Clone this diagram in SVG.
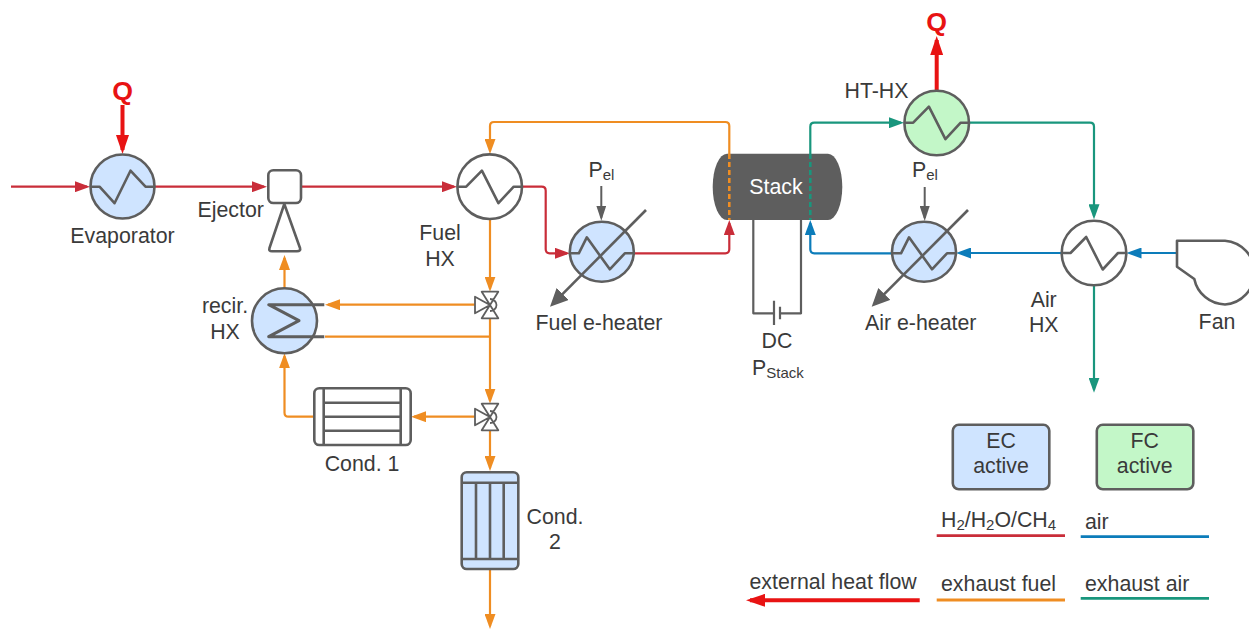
<svg xmlns="http://www.w3.org/2000/svg" width="1249" height="629" viewBox="0 0 1249 629">
<style>
text{font-family:"Liberation Sans",Arial,sans-serif;font-size:21.33px;fill:#3a3a3a}
.m{text-anchor:middle}
.s{font-size:15px}
.q{font-size:26.67px;font-weight:bold;fill:#e81313}
.g{fill:none;stroke:#5e5e5e;stroke-width:2.6;stroke-linejoin:round}
.v{fill:#fff;stroke:#5e5e5e;stroke-width:1.8;stroke-linejoin:round}
.b{fill:#cfe4ff}.gr{fill:#c3f7c8}.w{fill:#fff}
.c{fill:none;stroke-width:2.2;stroke-linejoin:round}
.d{stroke-dasharray:5 3;stroke-width:2.6}
.l{fill:none;stroke-width:2.8}
.red{stroke:#c92d39;marker-end:url(#ar)}
.or{stroke:#ef8d22;marker-end:url(#ao)}
.gn{stroke:#19967d;marker-end:url(#ag)}
.bl{stroke:#0c7cba;marker-end:url(#ab)}
.n{marker-end:none}
.hot{fill:none;stroke:#e81313;stroke-width:4;marker-end:url(#aq)}
.pe{fill:none;stroke:#5e5e5e;stroke-width:2;marker-end:url(#ap)}
.dg{fill:none;stroke:#5e5e5e;stroke-width:2.6;marker-end:url(#ad)}
</style>
<defs>
<marker id="ar" markerUnits="userSpaceOnUse" markerWidth="15" markerHeight="11" refX="12" refY="5.500" orient="auto"><path d="M0 0L15 5.500L0 11Z" fill="#c92d39"/></marker>
<marker id="ao" markerUnits="userSpaceOnUse" markerWidth="15" markerHeight="11" refX="12" refY="5.500" orient="auto"><path d="M0 0L15 5.500L0 11Z" fill="#ef8d22"/></marker>
<marker id="ag" markerUnits="userSpaceOnUse" markerWidth="15" markerHeight="11" refX="12" refY="5.500" orient="auto"><path d="M0 0L15 5.500L0 11Z" fill="#19967d"/></marker>
<marker id="ab" markerUnits="userSpaceOnUse" markerWidth="15" markerHeight="11" refX="12" refY="5.500" orient="auto"><path d="M0 0L15 5.500L0 11Z" fill="#0c7cba"/></marker>
<marker id="ap" markerUnits="userSpaceOnUse" markerWidth="15" markerHeight="10" refX="12" refY="5" orient="auto"><path d="M0 0L15 5L0 10Z" fill="#5e5e5e"/></marker>
<marker id="ad" markerUnits="userSpaceOnUse" markerWidth="18" markerHeight="17" refX="14" refY="8.500" orient="auto"><path d="M0 0L18 8.500L0 17Z" fill="#5e5e5e"/></marker>
<marker id="aq" markerUnits="userSpaceOnUse" markerWidth="19" markerHeight="13" refX="15" refY="6.500" orient="auto"><path d="M0 0L19 6.500L0 13Z" fill="#e81313"/></marker>
<path id="zu" d="M-32 0H-23.500L-7.800 -16L8.700 16.500L24 0H32"/>
<path id="zd" d="M-32 0H-23L-8 16.500L8 -16L23 0H32"/>
<path id="ze" d="M-32 0H-23L-15 -16L8 16L23 0H32"/>
<path id="valve" d="M-8.300 -13.300H8.300L-8.300 13.300H8.300ZM-15 -8.300L0 0L-15 8.300ZM0 -6A6.500 6 0 0 1 0 6"/>
</defs>

<g id="stack">
<path d="M727 153.700H828A14.300 33.150 0 0 1 828 220H727A14.300 33.150 0 0 1 727 153.700Z" fill="#5e5e5e"/>
<text class="m" x="776" y="193.500" style="fill:#fff">Stack</text>
</g>

<g id="connectors">
<path class="c red" d="M11 186.700H87"/>
<path class="c red" d="M155 186.700H264"/>
<path class="c red" d="M301 186.700H454"/>
<path class="c red" d="M522 186.700H541.700Q545.700 186.700 545.700 190.700V249.300Q545.700 253.300 549.700 253.300H567"/>
<path class="c red" d="M634 253.300H725.300Q729.300 253.300 729.300 249.300V223"/>
<path class="c or" d="M729.300 154V126Q729.300 122 725.300 122H494Q490 122 490 126V151"/>
<path class="c or n d" d="M729.300 154V220"/>
<path class="c or" d="M490 219V288.700"/>
<path class="c or" d="M475 304.700H328"/>
<path class="c or n" d="M490 336.700H325"/>
<path class="c or" d="M490 318V400.700"/>
<path class="c or" d="M284.500 288V258"/>
<path class="c or" d="M475 416.700H414"/>
<path class="c or" d="M314 416.700H288.500Q284.500 416.700 284.500 412.700V356.300"/>
<path class="c or" d="M490 430V468"/>
<path class="c or" d="M490 569V626"/>
<path class="c gn" d="M810.300 154V126.700Q810.300 122.700 814.300 122.700H901"/>
<path class="c gn n d" d="M810.300 154V220"/>
<path class="c gn" d="M969 122.700H1090Q1094 122.700 1094 126.700V216.300"/>
<path class="c gn" d="M1094 285V389.700"/>
<path class="c bl" d="M1177 253H1129.500"/>
<path class="c bl" d="M1061.700 253H959"/>
<path class="c bl" d="M892 253.300H814.300Q810.300 253.300 810.300 249.300V223"/>
<path class="hot" d="M122.500 105V150"/>
<path class="hot" d="M936.700 91V40"/>
<path class="pe" d="M601.300 186V217.700"/>
<path class="pe" d="M924.700 187V218"/>
<path fill="none" stroke="#5e5e5e" stroke-width="2.200" stroke-linejoin="round" d="M753.300 220V313.300H774M780 313.300H801V220"/>
</g>

<g id="evaporator"><circle class="g b" cx="122.500" cy="186.500" r="32"/><use href="#zd" class="g" x="122.500" y="186.700"/><text class="m" x="122.500" y="242.700">Evaporator</text></g>
<g id="q-in"><text class="q m" x="122.500" y="99.500">Q</text></g>
<g id="ejector"><rect class="g w" x="268.300" y="170.300" width="32.700" height="32.700" rx="5"/><path class="g w" d="M284.300 204L300 248Q301 251.300 297 251.300H272Q268.500 251.300 269.500 248Z"/><text x="197.500" y="216.700">Ejector</text></g>
<g id="fuel-hx"><circle class="g w" cx="489.700" cy="186.700" r="32.300"/><use href="#zu" class="g" x="489.700" y="186.700"/><text class="m" x="440" y="240">Fuel</text><text class="m" x="440" y="265.500">HX</text></g>
<g id="fuel-e-heater"><ellipse class="g b" cx="601.800" cy="251.700" rx="32" ry="30"/><use href="#ze" class="g" x="601.800" y="253.300"/><path class="dg" d="M646 210L552.800 303.900"/><text class="m" x="599" y="329.500">Fuel e-heater</text><text x="588.500" y="176.700">P<tspan class="s" dy="3">el</tspan></text></g>
<g id="recir-hx"><circle class="g b" cx="284.500" cy="320.800" r="32.500"/><path class="g" style="stroke-width:3" d="M324.300 304.700H268.700L299 320.700L268.700 336.700H324.300"/><text class="m" x="225" y="313">recir.</text><text class="m" x="225" y="338.500">HX</text></g>
<g id="valve-1"><use href="#valve" class="v" x="490" y="305"/></g>
<g id="valve-2"><use href="#valve" class="v" x="490" y="417"/></g>
<g id="cond-1"><rect class="g w" x="314.300" y="388.300" width="96.400" height="56.700" rx="5"/><path class="g" d="M323.700 388.300V445M400.700 388.300V445M323.700 402.700H400.700M323.700 416.700H400.700M323.700 430.700H400.700"/><text class="m" x="362" y="470.500">Cond. 1</text></g>
<g id="cond-2"><rect class="g b" x="461.700" y="472.300" width="56.600" height="96.700" rx="5"/><path class="g" d="M461.700 482.700H518.300M461.700 559H518.300M476 482.700V559M490 482.700V559M503.700 482.700V559"/><text class="m" x="555" y="523.500">Cond.</text><text class="m" x="555" y="549">2</text></g>
<g id="ht-hx"><circle class="g gr" cx="936.700" cy="123" r="32.300"/><use href="#zu" class="g" x="936.700" y="122.700"/><text x="844.500" y="97.700">HT-HX</text></g>
<g id="q-out"><text class="q m" x="936.700" y="31">Q</text></g>
<g id="air-e-heater"><ellipse class="g b" cx="924" cy="251.700" rx="32" ry="30"/><use href="#ze" class="g" x="924" y="253.300"/><path class="dg" d="M968 210L874.500 303.900"/><text class="m" x="920.700" y="330">Air e-heater</text><text x="912" y="176.700">P<tspan class="s" dy="3">el</tspan></text></g>
<g id="air-hx"><circle class="g w" cx="1094" cy="253" r="32.300"/><use href="#zu" class="g" x="1094" y="253"/><text class="m" x="1043.700" y="306.700">Air</text><text class="m" x="1043.700" y="331.700">HX</text></g>
<g id="fan"><path class="g w" d="M1177 240.700H1225A32 32 0 0 1 1225 304.500A32 32 0 0 1 1194.300 279L1177 266.700Z"/><text class="m" x="1217" y="329">Fan</text></g>
<g id="dc-source"><path class="g" style="stroke-width:2.200" d="M774 300.700V325M780 306.700V319.300"/><text class="m" x="777" y="348">DC</text><text x="752" y="375">P<tspan class="s" dy="3">Stack</tspan></text></g>

<g id="legend">
<g id="legend-ec"><rect class="g b" x="952.800" y="424.800" width="96.500" height="64.500" rx="6"/><text class="m" x="1001" y="447.700">EC</text><text class="m" x="1001" y="473.300">active</text></g>
<g id="legend-fc"><rect class="g gr" x="1096.800" y="424.800" width="96.500" height="64.500" rx="6"/><text class="m" x="1144.700" y="447.700">FC</text><text class="m" x="1144.700" y="473.300">active</text></g>
<text x="941" y="527.300">H<tspan class="s" dy="3">2</tspan><tspan dy="-3">/H</tspan><tspan class="s" dy="3">2</tspan><tspan dy="-3">O/CH</tspan><tspan class="s" dy="3">4</tspan></text>
<text x="1085" y="529.300">air</text>
<text x="749.500" y="589.300">external heat flow</text>
<text x="941" y="591">exhaust fuel</text>
<text x="1085" y="591">exhaust air</text>
<path class="l" stroke="#c92d39" d="M936.700 535.700H1065"/>
<path class="l" stroke="#0c7cba" d="M1080.700 536.700H1209"/>
<path class="l" stroke="#ef8d22" d="M936.700 600H1065"/>
<path class="l" stroke="#19967d" d="M1080.700 598.300H1209"/>
<path class="hot" d="M919.700 600.300H750"/>
</g>
</svg>
